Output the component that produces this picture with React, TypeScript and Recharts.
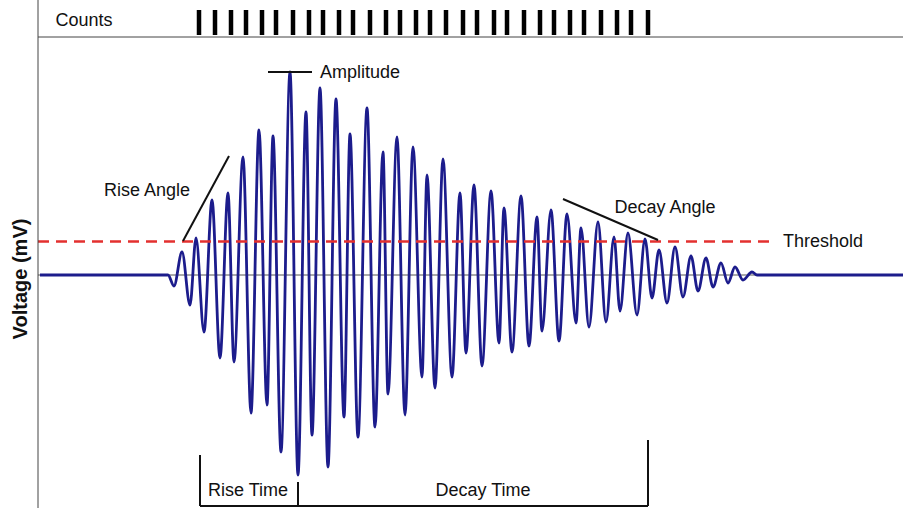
import React from "react";
import {
  ComposedChart,
  Line,
  XAxis,
  YAxis,
  ReferenceLine,
  ReferenceDot,
  Label,
} from "recharts";

// time (µs) of each turning point of the burst
const time = [
  2, 130, 136, 144, 152, 158, 166, 174, 182, 190, 196, 205, 213, 221, 229, 235,
  243, 252, 260, 268, 274, 282, 290, 298, 306, 312, 320, 329, 337, 345, 350,
  359, 367, 375, 384, 389, 397, 405, 414, 422, 428, 436, 444, 453, 461, 466,
  474, 483, 491, 499, 504, 513, 521, 529, 538, 543, 551, 560, 568, 576, 582,
  590, 599, 607, 614, 621, 629, 637, 645, 653, 660, 668, 675, 683, 690, 697,
  705, 714, 719, 865,
];

// voltage (mV) at each turning point
const voltage = [
  0, 0, -11, 23, -30, 37, -57, 75, -83, 82, -87, 118, -138, 145, -130, 139,
  -177, 203, -200, 163, -160, 187, -192, 176, -142, 141, -162, 167, -152, 123,
  -119, 138, -140, 128, -102, 100, -113, 116, -102, 82, -78, 90, -91, 84, -68,
  67, -77, 79, -71, 58, -56, 65, -66, 61, -48, 47, -52, 53, -47, 38, -36, 42,
  -40, 36, -23, 25, -28, 28, -22, 19, -16, 17, -12, 12, -8, 8, -5, 3, 0, 0,
];

const threshold = 33.5;

const data = time.map((t, i) => ({ t, v: voltage[i] }));

// every peak that climbs over the threshold is one count
const counts = data
  .filter((d, i) => i > 0 && i < data.length - 1 && d.v > threshold && d.v > data[i - 1].v && d.v > data[i + 1].v)
  .map((d) => d.t);

const peak = data.reduce((a, b) => (b.v > a.v ? b : a));
const firstHit = counts[0];
const lastHit = counts[counts.length - 1];

const font = "'Liberation Sans', Arial, sans-serif";
const ink = "#111";

function Note({ x, y, text, size = 18, bold = false, angle = 0 }: any) {
  return (
    <ReferenceDot
      x={x}
      y={y}
      r={1}
      fill="none"
      stroke="none"
      ifOverflow="visible"
      label={
        <Label
          value={text}
          position="center"
          angle={angle}
          fill={ink}
          fontSize={size}
          fontWeight={bold ? "bold" : "normal"}
          fontFamily={font}
        />
      }
    />
  );
}

export default function App() {
  return (
    <div style={{ position: "absolute", left: 0, top: 0, background: "#fff" }}>
      <ComposedChart
        width={903}
        height={508}
        data={data}
        margin={{ top: 0, right: 0, bottom: 0, left: 0 }}
      >
        <XAxis
          type="number"
          dataKey="t"
          domain={[0, 865]}
          allowDataOverflow
          hide
        />
        <YAxis
          type="number"
          domain={[-233, 275]}
          allowDataOverflow
          width={38}
          tick={false}
          tickLine={false}
          axisLine={{ stroke: "#444", strokeWidth: 1 }}
        />

        {/* counts strip */}
        <ReferenceLine y={238} stroke="#444" strokeWidth={1} />
        {counts.map((t) => (
          <ReferenceLine
            key={t}
            segment={[
              { x: t + 3, y: 240 },
              { x: t + 3, y: 265 },
            ]}
            stroke="#000"
            strokeWidth={4.5}
          />
        ))}

        <ReferenceLine y={0} stroke="#555" strokeWidth={1} />

        <Line
          type="monotone"
          dataKey="v"
          stroke="#1c1c8c"
          strokeWidth={2.8}
          dot={false}
          isAnimationActive={false}
        />

        <ReferenceLine
          segment={[
            { x: 0, y: threshold },
            { x: 737, y: threshold },
          ]}
          stroke="#e3302f"
          strokeWidth={2.5}
          strokeDasharray="11 7"
        />

        {/* amplitude marker */}
        <ReferenceLine
          segment={[
            { x: peak.t - 22, y: peak.v },
            { x: peak.t + 22, y: peak.v },
          ]}
          stroke={ink}
          strokeWidth={2}
        />
        {/* rise / decay angles */}
        <ReferenceLine
          segment={[
            { x: 145, y: 34 },
            { x: 191, y: 119 },
          ]}
          stroke={ink}
          strokeWidth={2}
        />
        <ReferenceLine
          segment={[
            { x: 525, y: 76 },
            { x: 620, y: 35 },
          ]}
          stroke={ink}
          strokeWidth={2}
        />

        {/* rise / decay time brackets */}
        <ReferenceLine
          segment={[
            { x: firstHit + 4, y: -180 },
            { x: firstHit + 4, y: -231 },
          ]}
          stroke={ink}
          strokeWidth={2}
        />
        <ReferenceLine
          segment={[
            { x: peak.t + 8, y: -207 },
            { x: peak.t + 8, y: -231 },
          ]}
          stroke={ink}
          strokeWidth={2}
        />
        <ReferenceLine
          segment={[
            { x: lastHit + 3, y: -165 },
            { x: lastHit + 3, y: -231 },
          ]}
          stroke={ink}
          strokeWidth={2}
        />
        <ReferenceLine
          segment={[
            { x: firstHit + 4, y: -231 },
            { x: lastHit + 3, y: -231 },
          ]}
          stroke={ink}
          strokeWidth={2}
        />

        <Note x={46} y={255} text="Counts" />
        <Note x={322} y={203} text="Amplitude" />
        <Note x={109} y={85} text="Rise Angle" />
        <Note x={627} y={68} text="Decay Angle" />
        <Note x={785} y={34} text="Threshold" />
        <Note x={210} y={-215} text="Rise Time" />
        <Note x={445} y={-215} text="Decay Time" />
        <Note x={-18} y={-4} text="Voltage (mV)" size={20} bold angle={-90} />
      </ComposedChart>
    </div>
  );
}
